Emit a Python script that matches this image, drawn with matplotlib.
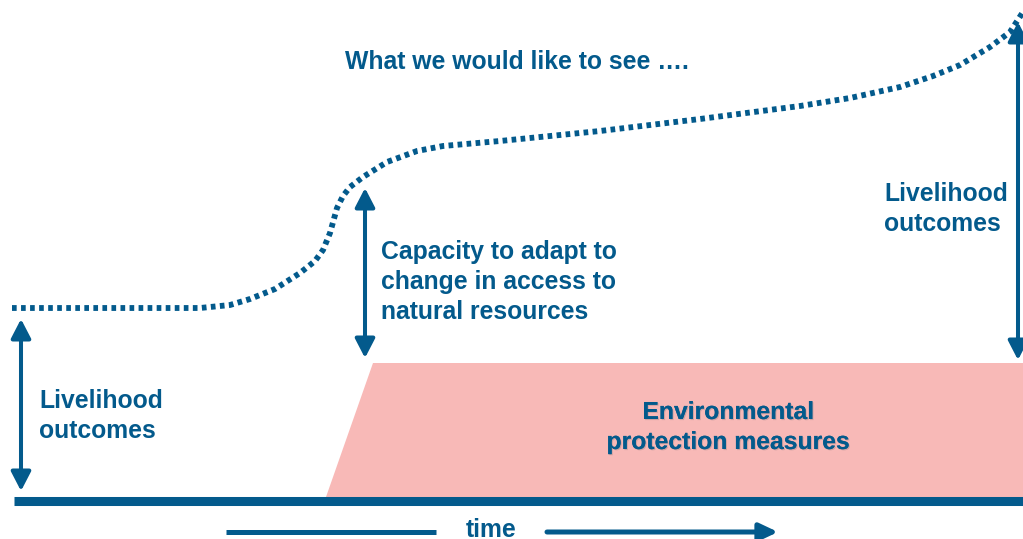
import matplotlib
matplotlib.use("Agg")
import matplotlib.pyplot as plt
from matplotlib.patches import Polygon
import matplotlib.patheffects as pe

BLUE = "#035a8c"
PINK = "#f8b9b7"
FONT = "Liberation Sans"
FS = 17.8

# Desired trajectory (pixel-space reading of the reference diagram)
curve_x = [12, 60, 120, 200, 230, 250, 275, 300, 315, 323, 330, 337, 343, 350, 363,
           387, 417, 443, 500, 600, 700, 800, 850, 900, 933, 960, 990, 1010, 1023]
curve_y = [308, 308, 308, 308, 305, 299, 289, 273, 261, 250, 233, 208, 196, 187, 177,
           162, 151, 146, 141, 131, 119, 106, 98, 87, 76, 65, 47, 32, 12]

# Environmental protection block (trapezoid corners)
env_x = [326, 373, 1023, 1023]
env_y = [497, 363, 363, 497]

# Double arrows: (x, y_top, y_bottom)
arrows = [(21, 319, 491), (365, 188, 358), (1018, 22, 360)]

fig = plt.figure(figsize=(10.23, 5.39), dpi=100)
ax = fig.add_axes([0, 0, 1, 1])
ax.set_xlim(0, 1023)
ax.set_ylim(539, 0)
ax.axis("off")

ax.add_patch(Polygon(list(zip(env_x, env_y)), closed=True, facecolor=PINK, edgecolor="none"))

ax.plot(curve_x, curve_y, color=BLUE, lw=4.2, linestyle=(0, (0.8, 0.75)),
        solid_capstyle="butt", dash_capstyle="butt")

# baseline
ax.plot([14, 1023], [501, 501], color=BLUE, lw=6.5, solid_capstyle="butt")

for x, y0, y1 in arrows:
    ax.annotate("", xy=(x, y0), xytext=(x, y1),
                arrowprops=dict(arrowstyle="<|-|>,head_length=0.58,head_width=0.3",
                                mutation_scale=20, color=BLUE, lw=2.9,
                                shrinkA=0, shrinkB=0))

# time arrow
ax.plot([226, 436], [532, 532], color=BLUE, lw=3.6, solid_capstyle="butt")
ax.annotate("", xy=(778, 532), xytext=(547, 532),
            arrowprops=dict(arrowstyle="-|>,head_length=0.55,head_width=0.26",
                            mutation_scale=20, color=BLUE, lw=3.6,
                            shrinkA=0, shrinkB=0))

tk = dict(color=BLUE, fontsize=FS, fontweight="bold", family=FONT, va="baseline")

ax.text(345, 69, "What we would like to see \u2026.", ha="left", **tk)
ax.text(39, 408, "Livelihood", ha="left", **tk)
ax.text(39, 438, "outcomes", ha="left", **tk)
ax.text(884, 201, "Livelihood", ha="left", **tk)
ax.text(884, 231, "outcomes", ha="left", **tk)
ax.text(381, 259, "Capacity to adapt to", ha="left", **tk)
ax.text(381, 289, "change in access to", ha="left", **tk)
ax.text(381, 319, "natural resources", ha="left", **tk)
shadow = [pe.withSimplePatchShadow(offset=(0.8, -0.8), shadow_rgbFace="#7a6f70", alpha=0.3),
          pe.Normal()]
t1 = ax.text(728, 419, "Environmental", ha="center", **tk)
t2 = ax.text(728, 449, "protection measures", ha="center", **tk)
t1.set_path_effects(shadow)
t2.set_path_effects(shadow)
ax.text(491, 537, "time", ha="center", **tk)

fig.savefig("out.png", dpi=100)
